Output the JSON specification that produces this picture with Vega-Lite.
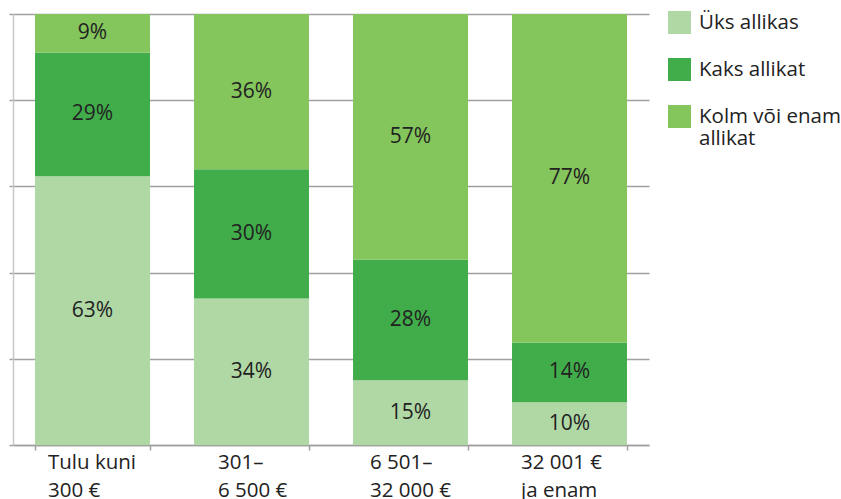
{
  "$schema": "https://vega.github.io/schema/vega-lite/v6.json",
  "width": 636,
  "height": 431,
  "autosize": {"type": "none"},
  "padding": {"left": 13, "top": 14, "right": 192, "bottom": 54},
  "config": {
    "view": {"stroke": null},
    "font": "Open Sans",
    "text": {"font": "Open Sans"}
  },
  "data": {
    "values": [
      {"tulu": "Tulu kuni 300 €", "allikad": "Üks allikas", "ord": 1, "pct": 63},
      {"tulu": "Tulu kuni 300 €", "allikad": "Kaks allikat", "ord": 2, "pct": 29},
      {"tulu": "Tulu kuni 300 €", "allikad": "Kolm või enam allikat", "ord": 3, "pct": 9},
      {"tulu": "301–6 500 €", "allikad": "Üks allikas", "ord": 1, "pct": 34},
      {"tulu": "301–6 500 €", "allikad": "Kaks allikat", "ord": 2, "pct": 30},
      {"tulu": "301–6 500 €", "allikad": "Kolm või enam allikat", "ord": 3, "pct": 36},
      {"tulu": "6 501–32 000 €", "allikad": "Üks allikas", "ord": 1, "pct": 15},
      {"tulu": "6 501–32 000 €", "allikad": "Kaks allikat", "ord": 2, "pct": 28},
      {"tulu": "6 501–32 000 €", "allikad": "Kolm või enam allikat", "ord": 3, "pct": 57},
      {"tulu": "32 001 € ja enam", "allikad": "Üks allikas", "ord": 1, "pct": 10},
      {"tulu": "32 001 € ja enam", "allikad": "Kaks allikat", "ord": 2, "pct": 14},
      {"tulu": "32 001 € ja enam", "allikad": "Kolm või enam allikat", "ord": 3, "pct": 77}
    ]
  },
  "transform": [
    {"stack": "pct", "groupby": ["tulu"], "sort": [{"field": "ord", "order": "ascending"}], "offset": "normalize", "as": ["y0", "y1"]},
    {"calculate": "(datum.y0 + datum.y1) / 2", "as": "ymid"},
    {"calculate": "datum.pct + '%'", "as": "lbl"}
  ],
  "encoding": {
    "x": {
      "field": "tulu",
      "type": "nominal",
      "sort": ["Tulu kuni 300 €", "301–6 500 €", "6 501–32 000 €", "32 001 € ja enam"],
      "scale": {"paddingInner": 0.277, "paddingOuter": 0.1385},
      "axis": {
        "title": null,
        "labelAngle": 0,
        "tickBand": "extent",
        "domainColor": "#a0a0a0",
        "domainWidth": 1.5,
        "tickColor": "#a0a0a0",
        "tickWidth": 1.5,
        "tickSize": 5,
        "labelFont": "Open Sans",
        "labelFontSize": 20.5,
        "labelColor": "#222222",
        "labelPadding": 2,
        "labelBaseline": "top",
        "labelLineHeight": 28,
        "labelAlign": "left",
        "labelOffset": {"condition": [
          {"test": "datum.value == 'Tulu kuni 300 €'", "value": -45},
          {"test": "datum.value == '301–6 500 €'", "value": -34},
          {"test": "datum.value == '6 501–32 000 €'", "value": -41}
        ], "value": -49},
        "labelExpr": "datum.value == 'Tulu kuni 300 €' ? ['Tulu kuni', '300 €'] : datum.value == '301–6 500 €' ? ['301–', '6 500 €'] : datum.value == '6 501–32 000 €' ? ['6 501–', '32 000 €'] : datum.value == '32 001 € ja enam' ? ['32 001 €', 'ja enam'] : ''"
      }
    }
  },
  "layer": [
    {
      "mark": {"type": "bar", "stroke": null},
      "encoding": {
        "y": {
          "field": "y0",
          "type": "quantitative",
          "scale": {"domain": [0, 1], "nice": false},
          "axis": {
            "title": null,
            "labels": false,
            "values": [0, 0.2, 0.4, 0.6, 0.8, 1],
            "grid": true,
            "gridColor": "#a0a0a0",
            "gridWidth": 1.5,
            "domainColor": "#c8c8c8",
            "domainWidth": 1.5,
            "tickColor": "#a0a0a0",
            "tickWidth": 1.5,
            "tickSize": 4
          }
        },
        "y2": {"field": "y1"},
        "color": {
          "field": "allikad",
          "type": "nominal",
          "scale": {
            "domain": ["Üks allikas", "Kaks allikat", "Kolm või enam allikat"],
            "range": ["#b0d8a5", "#40ad4a", "#84c55c"]
          },
          "legend": {
            "title": null,
            "orient": "none",
            "legendX": 655,
            "legendY": -3,
            "padding": 0,
            "symbolType": "square",
            "symbolSize": 529,
            "symbolStrokeWidth": 0,
            "symbolOpacity": 1,
            "rowPadding": 24,
            "labelFont": "Open Sans",
            "labelFontSize": 20.5,
            "labelColor": "#222222",
            "labelOffset": 8,
            "labelLimit": 300,
            "labelBaseline": "middle",
            "labelLineHeight": 24,
            "labelExpr": "datum.label == 'Kolm või enam allikat' ? ['Kolm või enam', 'allikat'] : datum.label"
          }
        }
      }
    },
    {
      "mark": {"type": "text", "font": "Open Sans", "fontSize": 21, "color": "#222222", "baseline": "middle"},
      "encoding": {
        "y": {"field": "ymid", "type": "quantitative"},
        "text": {"field": "lbl", "type": "nominal"},
        "detail": {"field": "allikad"}
      }
    }
  ]
}
